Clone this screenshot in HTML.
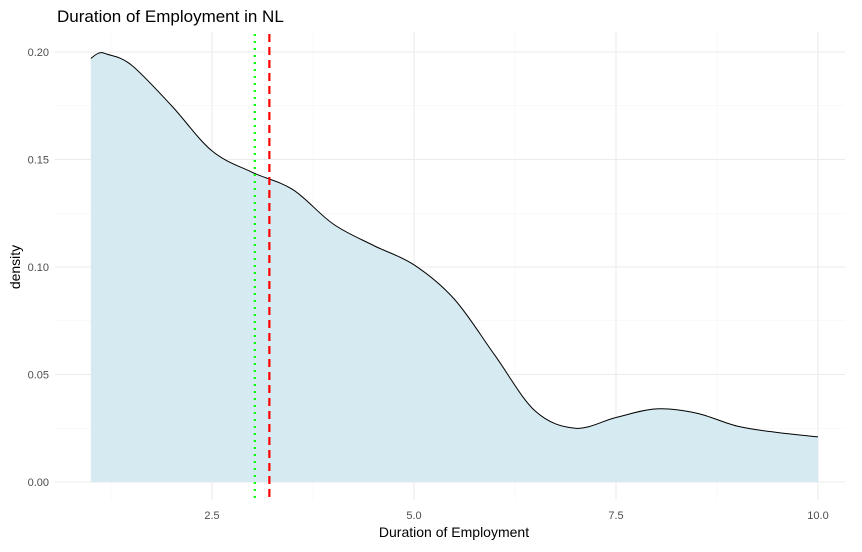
<!DOCTYPE html>
<html><head><meta charset="utf-8"><style>
body{margin:0;background:#fff;font-family:"Liberation Sans",sans-serif}
</style></head><body>
<svg width="862" height="547" xmlns="http://www.w3.org/2000/svg">
<text x="57" y="22" font-size="17" fill="#000">Duration of Employment in NL</text>
<g id="grid"></g>
<g id="marks"></g>
<g id="axes"></g>
<text x="454" y="537" font-size="14" text-anchor="middle">Duration of Employment</text>
<text transform="translate(20,267) rotate(-90)" font-size="14" text-anchor="middle">density</text>
</svg>
<script>
const xs=[1.0,1.1,1.2,1.5,2.0,2.5,3.0,3.5,4.0,4.5,5.0,5.5,6.0,6.5,7.0,7.5,8.0,8.5,9.0,9.5,10.0];
const dens=[0.197,0.1995,0.199,0.194,0.175,0.154,0.144,0.136,0.120,0.110,0.101,0.085,0.059,0.033,0.025,0.030,0.034,0.032,0.026,0.023,0.021];
const xTicks=[2.5,5.0,7.5,10.0];
const xTickLabels=["2.5","5.0","7.5","10.0"];
const yTicks=[0,0.05,0.10,0.15,0.20];
const yTickLabels=["0.00","0.05","0.10","0.15","0.20"];
const meanVal=3.21, medianVal=3.03;
const NS="http://www.w3.org/2000/svg";
const X=v=>90.8+(v-1)*80.8;
const Y=v=>482-v*2150;
function mk(t,a,p){const e=document.createElementNS(NS,t);for(const k in a)e.setAttribute(k,a[k]);p.appendChild(e);return e;}
const grid=document.getElementById('grid'),marks=document.getElementById('marks'),axes=document.getElementById('axes');
for(let v=1.25;v<=10.01;v+=1.25){const major=Math.abs(v/2.5-Math.round(v/2.5))<1e-6;
 const l=mk('line',{x1:X(v),x2:X(v),y1:32,y2:500,stroke:major?'#ebebeb':'#f3f3f3','stroke-width':major?1.1:0.6},grid);
 }
for(let v=0;v<=0.2251;v+=0.025){const major=Math.round(v*1000)%50===0;
 const l=mk('line',{x1:55,x2:845,y1:Y(v),y2:Y(v),stroke:major?'#ebebeb':'#f3f3f3','stroke-width':major?1.1:0.6},grid);
 }
// catmull-rom
const P=xs.map((x,i)=>[X(x),Y(dens[i])]);
let d=`M${P[0][0]},${P[0][1]}`;
for(let i=0;i<P.length-1;i++){const p0=P[i-1]||P[i],p1=P[i],p2=P[i+1],p3=P[i+2]||P[i+1];
 d+=`C${p1[0]+(p2[0]-p0[0])/6},${p1[1]+(p2[1]-p0[1])/6} ${p2[0]-(p3[0]-p1[0])/6},${p2[1]-(p3[1]-p1[1])/6} ${p2[0]},${p2[1]}`;}
const area=mk('path',{d:d+`L${X(xs[xs.length-1])},${Y(0)}L${X(xs[0])},${Y(0)}Z`,fill:'#d6eaf1'},marks);

const line=mk('path',{d:d,fill:'none',stroke:'#000','stroke-width':1},marks);

const med=mk('line',{x1:X(medianVal),x2:X(medianVal),y1:34,y2:500,stroke:'#00ff00','stroke-width':2.2,'stroke-dasharray':'2 5'},marks);

const mean=mk('line',{x1:X(meanVal),x2:X(meanVal),y1:34,y2:500,stroke:'#ff0000','stroke-width':2.2,'stroke-dasharray':'8 5'},marks);

xTicks.forEach((v,i)=>{const t=mk('text',{x:X(v),y:519,'font-size':11,fill:'#4d4d4d','text-anchor':'middle'},axes);t.textContent=xTickLabels[i];
 });
yTicks.forEach((v,i)=>{const t=mk('text',{x:49,y:Y(v)+4,'font-size':11,fill:'#4d4d4d','text-anchor':'end'},axes);t.textContent=yTickLabels[i];
 });
</script>
</body></html>
